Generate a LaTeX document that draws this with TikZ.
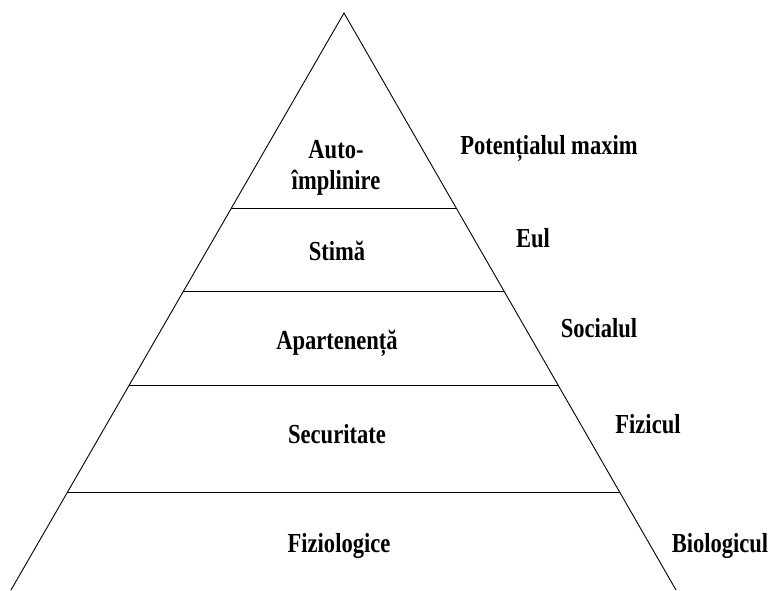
\documentclass[tikz,border=0pt]{standalone}
\usepackage{fontspec}
\setmainfont{Liberation Serif}[FakeStretch=0.82]
\usetikzlibrary{calc}

\begin{document}
\begin{tikzpicture}[x=1pt,y=-1pt,side/.style={draw=black,line width=0.9pt},
  level/.style={draw=black,line width=1pt},
  lab/.style={font=\fontsize{27.5}{27.5}\selectfont\bfseries,inner sep=0pt,align=center}]
  \useasboundingbox (0,0) rectangle (772,590);
  \coordinate (apex) at (344,13);
  \coordinate (bl) at (11,590);
  \coordinate (br) at (676,590);
  \draw[side] (bl) -- (apex) -- (br);
  \foreach \t in {0.338,0.482,0.645,0.831}
    \draw[level] ($(apex)!\t!(bl)$) -- ($(apex)!\t!(br)$);

  \node[lab] (auto)   at (336,168) {Auto-\\[4pt]împlinire};
  \node[lab] (stima)  at (337,251) {Stimă};
  \node[lab] (apart)  at (337,343) {Apartenență};
  \node[lab] (secur)  at (337,434) {Securitate};
  \node[lab] (fizio)  at (339,546) {Fiziologice};

  \node[lab] (maxim)  at (549,148) {Potențialul maxim};
  \node[lab] (eul)    at (533,238) {Eul};
  \node[lab] (soc)    at (599,328) {Socialul};
  \node[lab] (fizic)  at (648,424) {Fizicul};
  \node[lab] (biolog) at (720,546) {Biologicul};
\end{tikzpicture}
\end{document}
